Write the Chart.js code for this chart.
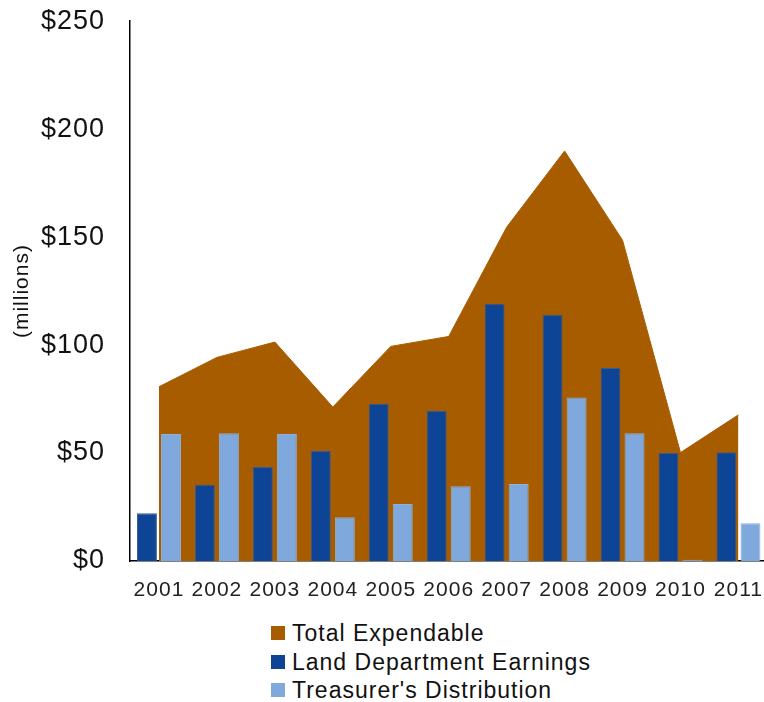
<!DOCTYPE html>
<html>
<head>
<meta charset="utf-8">
<script src="https://cdn.jsdelivr.net/npm/chart.js@4.4.1/dist/chart.umd.min.js"></script>
<style>
  html, body { margin: 0; padding: 0; background: #fff; overflow: hidden; }
  #wrap { position: relative; width: 764px; height: 702px; overflow: hidden; }
  #chart { position: absolute; left: 0; top: -20px; }
  #legend { position: absolute; left: 271px; top: 619px; font-family: "Liberation Sans", Arial, sans-serif; font-size: 23px; letter-spacing: 1px; color: #111; }
  #legend .item { height: 28.5px; line-height: 28.5px; display: flex; align-items: center; }
  #legend .box { width: 14px; height: 14px; margin-right: 7px; }
</style>
</head>
<body>
<div id="wrap">
  <canvas id="chart" width="778" height="632"></canvas>
  <div id="legend"></div>
</div>
<script>
const years = ['2001', '2002', '2003', '2004', '2005', '2006', '2007', '2008', '2009', '2010', '2011'];
const totalExpendable = [80.7, 94.3, 101.4, 71.3, 99.4, 104, 154.6, 189.9, 148.6, 50.2, 67.7];
const landEarnings = [22.1, 35.3, 43.5, 51, 72.8, 69.6, 119.1, 114.1, 89.4, 50, 50.4];
const treasurerDist = [58.8, 59.2, 58.8, 20.3, 26.4, 34.6, 35.7, 75.7, 59.2, 0.6, 17.5];
const yTicks = [0, 50, 100, 150, 200, 250];

const font = "'Liberation Sans', Arial, sans-serif";

// the original text is set with a little extra tracking
const spacing = {
  id: 'spacing',
  beforeDraw: c => { c.ctx.letterSpacing = '1px'; }
};

const chart = new Chart(document.getElementById('chart'), {
  type: 'bar',
  data: {
    labels: years,
    datasets: [
      {
        type: 'line',
        label: 'Total Expendable',
        data: totalExpendable,
        backgroundColor: '#a85c00',
        borderColor: '#a85c00',
        borderWidth: 1,
        fill: 'origin',
        tension: 0,
        pointRadius: 0,
        order: 2
      },
      {
        label: 'Land Department Earnings',
        data: landEarnings,
        backgroundColor: '#0d4496',
        borderColor: '#3a5a8a',
        borderWidth: 1,
        categoryPercentage: 0.83,
        barPercentage: 0.83,
        order: 1
      },
      {
        label: "Treasurer's Distribution",
        data: treasurerDist,
        backgroundColor: '#7fa8dc',
        borderColor: '#8fb0d8',
        borderWidth: 1,
        categoryPercentage: 0.83,
        barPercentage: 0.83,
        order: 1
      }
    ]
  },
  plugins: [spacing],
  options: {
    responsive: false,
    animation: false,
    layout: { padding: { top: 2, right: 0, left: 0, bottom: 0 } },
    plugins: { legend: { display: false }, tooltip: { enabled: false } },
    scales: {
      x: {
        offset: true,
        grid: { display: false, drawTicks: false },
        border: { display: true, color: '#000', width: 1.5 },
        ticks: { color: '#222', font: { family: font, size: 21 }, padding: 17, maxRotation: 0 },
        afterFit: s => { s.height = 51; }
      },
      y: {
        min: 0,
        max: 250,
        afterBuildTicks: s => { s.ticks = yTicks.map(v => ({ value: v })); },
        grid: { display: false, drawTicks: false },
        border: { display: true, color: '#000', width: 1.5 },
        ticks: {
          color: '#111',
          font: { family: font, size: 27 },
          padding: 25,
          callback: v => '$' + v
        },
        title: {
          display: true,
          text: '(millions)',
          color: '#111',
          font: { family: font, size: 21 },
          padding: { top: 10, bottom: 0 }
        },
        afterFit: s => { s.width = 130; }
      }
    }
  }
});

// legend stacked vertically under the chart, like the original
const legend = document.getElementById('legend');
chart.data.datasets.forEach(ds => {
  const item = document.createElement('div');
  item.className = 'item';
  const box = document.createElement('span');
  box.className = 'box';
  box.style.background = ds.backgroundColor;
  const txt = document.createElement('span');
  txt.textContent = ds.label;
  item.appendChild(box);
  item.appendChild(txt);
  legend.appendChild(item);
});
</script>
</body>
</html>
